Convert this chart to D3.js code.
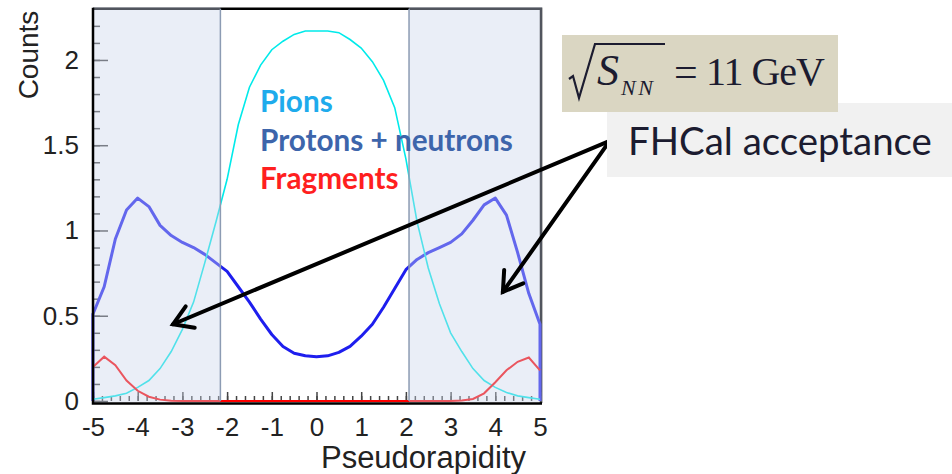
<!DOCTYPE html>
<html>
<head>
<meta charset="utf-8">
<script src="https://d3js.org/d3.v7.min.js"></script>
<style>
    body { margin: 0; background: #fff; }
    svg { display: block; }
</style>
</head>
<body>
<svg id="chart" width="952" height="474"></svg>
<script>

var eta = [-5, -4.75, -4.5, -4.25, -4, -3.75, -3.5, -3.25, -3, -2.75, -2.5, -2.25, -2, -1.75, -1.5, -1.25, -1, -0.75, -0.5, -0.25,
    0, 0.25, 0.5, 0.75, 1, 1.25, 1.5, 1.75, 2, 2.25, 2.5, 2.75, 3, 3.25, 3.5, 3.75, 4, 4.25, 4.5, 4.75, 5];

var pions = [0.01, 0.02, 0.03, 0.045, 0.08, 0.12, 0.19, 0.29, 0.42, 0.58, 0.81, 1.05, 1.30, 1.62, 1.84, 1.97, 2.06, 2.11, 2.15, 2.17,
    2.17, 2.17, 2.16, 2.12, 2.07, 1.99, 1.88, 1.72, 1.42, 1.05, 0.78, 0.57, 0.40, 0.29, 0.19, 0.12, 0.08, 0.05, 0.03, 0.02, 0.01];

var nucleons = [0.51, 0.67, 0.95, 1.12, 1.19, 1.14, 1.03, 0.97, 0.93, 0.90, 0.86, 0.81, 0.76, 0.67, 0.58, 0.48, 0.39, 0.32, 0.28, 0.265,
    0.26, 0.265, 0.285, 0.32, 0.38, 0.45, 0.55, 0.66, 0.77, 0.83, 0.87, 0.90, 0.93, 0.98, 1.06, 1.15, 1.19, 1.09, 0.87, 0.63, 0.45];

var fragments = [0.20, 0.26, 0.21, 0.12, 0.06, 0.025, 0.008, 0.002, 0, 0, 0, 0, 0, 0, 0, 0, 0, 0, 0, 0,
    0, 0, 0, 0, 0, 0, 0, 0, 0, 0, 0, 0, 0, 0.003, 0.012, 0.045, 0.11, 0.18, 0.23, 0.255, 0.18];

var acceptance = [[-5, -2.15], [2.07, 5]];

var legend = [
    { 'label': 'Pions', 'color': '#1eabec' },
    { 'label': 'Protons + neutrons', 'color': '#3d65ab' },
    { 'label': 'Fragments', 'color': '#ff1f1f' }
];

// arrows in data units: common start, two tips
var arrowFrom = [6.56, 1.525];
var arrowTips = [[-3.21, 0.45], [4.17, 0.64]];

var svg = d3.select('#chart');

var x = d3.scaleLinear().domain([-5, 5]).range([93, 540]);
var y = d3.scaleLinear().domain([0, 2.3]).range([401, 8.8]);

var left = x.range()[0], right = x.range()[1] + 1;
var top_ = y.range()[1], bottom = y.range()[0];


// frame (top and right), partly dimmed later by the acceptance overlay
svg.append('path')
    .attr('d', 'M' + left + ',' + top_ + 'H' + right + 'V' + (bottom + 2))
    .attr('fill', 'none')
    .attr('stroke', '#000')
    .attr('stroke-width', 2.5);


function plainFormat(d) { return String(d); }

var yMajor = svg.append('g')
    .attr('transform', 'translate(' + left + ',0)')
    .call(d3.axisLeft(y).tickValues([0, 0.5, 1, 1.5, 2]).tickSize(-15).tickPadding(14).tickFormat(plainFormat));

var yMinor = svg.append('g')
    .attr('transform', 'translate(' + left + ',0)')
    .call(d3.axisLeft(y).tickValues(d3.range(0, 23).map(function(i) { return i / 10; })).tickSize(-7).tickFormat(''));

var xMajor = svg.append('g')
    .attr('transform', 'translate(0,' + bottom + ')')
    .call(d3.axisBottom(x).tickValues(d3.range(-5, 6)).tickSize(-9).tickPadding(17).tickFormat(plainFormat));

var xMinor = svg.append('g')
    .attr('transform', 'translate(0,' + bottom + ')')
    .call(d3.axisBottom(x).tickValues(d3.range(-25, 26).map(function(i) { return i / 5; })).tickSize(-5).tickFormat(''));

[yMajor, yMinor, xMajor, xMinor].forEach(function(g) {
    g.select('.domain').remove();
    g.selectAll('.tick line').attr('stroke', '#444').attr('stroke-width', 1.5);
    g.selectAll('.tick text')
        .attr('font-family', 'Liberation Sans, Arial, sans-serif')
        .attr('font-size', 26)
        .attr('fill', '#222');
});


// curves
function series(values) {
    return eta.map(function(e, i) { return [e, values[i]]; });
}

var line = d3.line()
    .x(function(d) { return x(d[0]); })
    .y(function(d) { return y(d[1]); });

var nucleonPts = [[-5, 0]].concat(series(nucleons)).concat([[5, 0]]);

svg.append('path')
    .attr('d', line(nucleonPts))
    .attr('fill', 'none')
    .attr('stroke', '#1e1eee')
    .attr('stroke-width', 3)
    .attr('stroke-linejoin', 'round');

svg.append('path')
    .attr('d', line(series(pions)))
    .attr('fill', 'none')
    .attr('stroke', '#00eaea')
    .attr('stroke-width', 1.6);

svg.append('path')
    .attr('d', line(series(fragments)))
    .attr('fill', 'none')
    .attr('stroke', '#ff0000')
    .attr('stroke-width', 2);


// acceptance overlay
svg.selectAll('.accept')
    .data(acceptance)
    .enter().append('rect')
    .attr('class', 'accept')
    .attr('x', function(d) { return x(d[0]); })
    .attr('width', function(d) { return x(d[1]) - x(d[0]) + (d[1] == 5 ? 2 : 0); })
    .attr('y', top_ - 1.5)
    .attr('height', bottom - top_ + 3)
    .attr('fill', 'rgb(203,213,235)')
    .attr('fill-opacity', 0.4);

svg.selectAll('.accept-edge')
    .data([acceptance[0][1], acceptance[1][0]])
    .enter().append('line')
    .attr('x1', function(d) { return x(d); })
    .attr('x2', function(d) { return x(d); })
    .attr('y1', top_)
    .attr('y2', bottom)
    .attr('stroke', '#8c9bb3')
    .attr('stroke-width', 1.5);


// left and bottom axis lines on top
svg.append('path')
    .attr('d', 'M' + left + ',' + (top_ - 1) + 'V' + (bottom + 2.5) + 'H' + (right + 1))
    .attr('fill', 'none')
    .attr('stroke', '#000')
    .attr('stroke-width', 2.5);


// axis titles
svg.append('text')
    .attr('transform', 'translate(38,55) rotate(-90)')
    .attr('text-anchor', 'middle')
    .attr('font-family', 'Liberation Sans, Arial, sans-serif')
    .attr('font-size', 28)
    .attr('fill', '#222')
    .text('Counts');

svg.append('text')
    .attr('x', 423.5)
    .attr('y', 468)
    .attr('text-anchor', 'middle')
    .attr('font-family', 'Liberation Sans, Arial, sans-serif')
    .attr('font-size', 31)
    .attr('fill', '#222')
    .text('Pseudorapidity');


function fitText(sel, width) {
    var w = sel.node().getComputedTextLength();
    var fs = parseFloat(sel.attr('font-size'));
    sel.attr('font-size', fs * width / w);
    return fs * width / w;
}


// legend
var legendText = svg.selectAll('.legend')
    .data(legend)
    .enter().append('text')
    .attr('class', 'legend')
    .attr('x', 260)
    .attr('y', function(d, i) { return 112 + i * 38.5; })
    .attr('font-family', 'Lato, Calibri, sans-serif')
    .attr('font-weight', 'bold')
    .attr('font-size', 26)
    .attr('fill', function(d) { return d.color; })
    .text(function(d) { return d.label; });

var legendSize = fitText(d3.select(legendText.nodes()[1]), 253);
legendText.attr('font-size', legendSize);


// arrows
var arrows = svg.append('g')
    .attr('stroke', '#000')
    .attr('stroke-width', 4)
    .attr('stroke-linecap', 'round')
    .attr('fill', 'none');

arrowTips.forEach(function(tip) {

    var x0 = x(arrowFrom[0]), y0 = y(arrowFrom[1]);
    var x1 = x(tip[0]), y1 = y(tip[1]);

    var ang = Math.atan2(y0 - y1, x0 - x1);
    var len = 22, spread = 32 * Math.PI / 180;

    arrows.append('path')
        .attr('d', 'M' + x0 + ',' + y0 + 'L' + x1 + ',' + y1);

    arrows.append('path')
        .attr('stroke-linejoin', 'miter')
        .attr('d', 'M' + (x1 + len * Math.cos(ang - spread)) + ',' + (y1 + len * Math.sin(ang - spread)) +
            'L' + x1 + ',' + y1 +
            'L' + (x1 + len * Math.cos(ang + spread)) + ',' + (y1 + len * Math.sin(ang + spread)));
});


// annotation boxes
svg.append('rect')
    .attr('x', 607).attr('y', 103)
    .attr('width', 345).attr('height', 74)
    .attr('fill', '#f1f1f1');

var fh = svg.append('text')
    .attr('x', 628)
    .attr('y', 155)
    .attr('font-family', 'Lato, Calibri, sans-serif')
    .attr('font-size', 38)
    .attr('fill', '#1c1c30')
    .text('FHCal acceptance');

fitText(fh, 304);

svg.append('rect')
    .attr('x', 562).attr('y', 35)
    .attr('width', 276).attr('height', 77)
    .attr('fill', '#dad6c2');

svg.append('path')
    .attr('d', 'M569,79 L573,76 L579,98 L595,44 H665')
    .attr('fill', 'none')
    .attr('stroke', '#1c1c30')
    .attr('stroke-width', 2.2);

var serif = 'Liberation Serif, Times New Roman, serif';

svg.append('text')
    .attr('x', 597).attr('y', 85)
    .attr('font-family', serif)
    .attr('font-style', 'italic')
    .attr('font-size', 44)
    .attr('fill', '#1c1c30')
    .text('S');

svg.append('text')
    .attr('x', 621).attr('y', 95)
    .attr('font-family', serif)
    .attr('font-style', 'italic')
    .attr('font-size', 22)
    .attr('fill', '#1c1c30')
    .attr('textLength', 32)
    .text('NN');

svg.append('text')
    .attr('x', 674).attr('y', 86)
    .attr('font-family', serif)
    .attr('font-size', 42)
    .attr('fill', '#1c1c30')
    .text('=');

svg.append('text')
    .attr('x', 706).attr('y', 85)
    .attr('font-family', serif)
    .attr('font-size', 40)
    .attr('fill', '#1c1c30')
    .attr('textLength', 119)
    .text('11 GeV');

</script>
</body>
</html>
